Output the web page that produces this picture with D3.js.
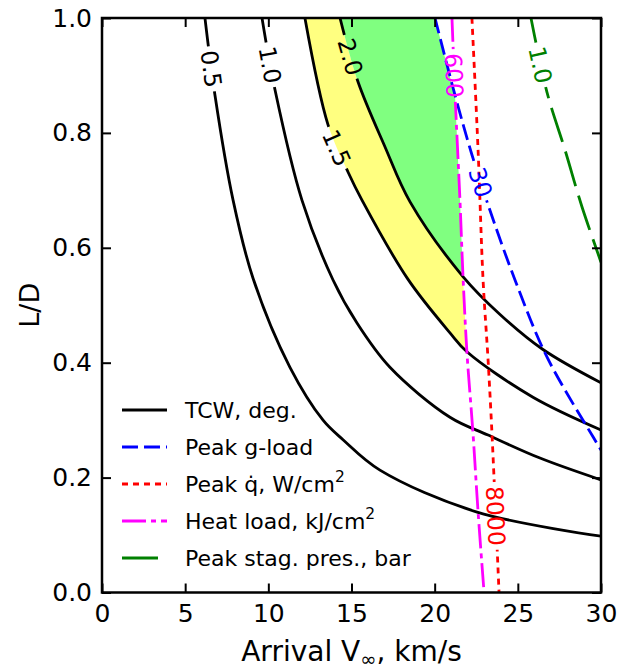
<!DOCTYPE html>
<html><head><meta charset="utf-8">
<script src="https://cdn.jsdelivr.net/npm/d3@7"></script>
<style>body{margin:0;background:#fff} svg text{font-family:"DejaVu Sans",sans-serif}</style>
</head><body><svg id="c" width="621" height="671"></svg>
<script>
// ---------------- data ----------------
const xTicks=[0,5,10,15,20,25,30];
const yTicks=[0,0.2,0.4,0.6,0.8,1.0];
const tcwLevels=["0.5","1.0","1.5","2.0"];
// TCW contours (Arrival V_inf km/s , L/D)
const tcw05V =[6.19,6.79,7.88,9.08,11.30,13.29,14.49,16.71,22.55,30];
const tcw05LD=[1.0,0.866,0.683,0.547,0.392,0.300,0.266,0.213,0.140,0.098];
const tcw10V =[9.62,10.40,12.02,13.89,15.33,17.31,20.92,23.21,26.33,30];
const tcw10LD=[1.0,0.875,0.683,0.544,0.469,0.392,0.305,0.274,0.234,0.196];
const tcw15V =[12.20,13.59,14.79,15.63,18.40,20.92,21.94,25.91,30];
const tcw15LD=[1.0,0.814,0.732,0.683,0.545,0.452,0.419,0.340,0.283];
const tcw20V =[14.31,15.39,17.01,18.52,21.70,23.93,26.51,30];
const tcw20LD=[1.0,0.889,0.776,0.680,0.550,0.484,0.423,0.365];
// Peak g-load = 30
const gLevel="30";
const gV =[20.02,21.22,22.24,23.21,24.83,26.75,29.52,30];
const gLD=[1.0,0.866,0.762,0.675,0.544,0.410,0.271,0.248];
// Peak heat rate = 8000 W/cm2
const qLevel="8000";
const qV =[22.24,22.61,22.91,23.21,23.45,23.87];
const qLD=[1.0,0.770,0.544,0.405,0.274,0.0];
// Heat load = 600 kJ/cm2
const hLevel="600";
const hV =[21.04,21.22,21.52,21.70,21.94,22.30,22.61,22.97];
const hLD=[1.0,0.870,0.683,0.553,0.418,0.279,0.140,0.0];
// Peak stagnation pressure = 1.0 bar
const pLevel="1.0";
const pV =[25.79,26.75,27.84,28.86,30];
const pLD=[1.0,0.871,0.770,0.671,0.575];
const legendLabels=["TCW, deg.","Peak g-load","Peak q\u0307, W/cm","Heat load, kJ/cm","Peak stag. pres., bar"];

// ---------------- drawing ----------------
const svg=d3.select("#c");
const x=d3.scaleLinear().domain([0,30]).range([102,601]);
const y=d3.scaleLinear().domain([0,1]).range([592.5,18]);
const line=d3.line().x(d=>x(d[0])).y(d=>y(d[1])).curve(d3.curveCatmullRom.alpha(0.5));
const pts=(V,L)=>V.map((v,i)=>[v,L[i]]);
const defs=svg.append("defs");
defs.append("clipPath").attr("id","plot").append("rect")
  .attr("x",x(0)).attr("y",y(1)).attr("width",x(30)-x(0)).attr("height",y(0)-y(1));

const P05=pts(tcw05V,tcw05LD),P10=pts(tcw10V,tcw10LD),P15=pts(tcw15V,tcw15LD),P20=pts(tcw20V,tcw20LD);
const PG=pts(gV,gLD),PQ=pts(qV,qLD),PH=pts(hV,hLD),PP=pts(pV,pLD);

// clip regions
const leftOfH=line(PH)+`L${x(0)},${y(0)}L${x(0)},${y(1)}Z`;
const leftOfG=line(PG)+`L${x(30)},${y(0)}L${x(0)},${y(0)}L${x(0)},${y(1)}Z`;
defs.append("clipPath").attr("id","cH").append("path").attr("d",leftOfH);
defs.append("clipPath").attr("id","cG").append("path").attr("d",leftOfG);

const plot=svg.append("g").attr("clip-path","url(#plot)");
// yellow band between 1.5 and 2.0, left of heat-load line
const band=line(P15)+line(P20.slice().reverse()).replace(/^M/,"L")+"Z";
plot.append("g").attr("clip-path","url(#cH)").append("path").attr("d",band).attr("fill","#ffff80");
// green region beyond 2.0, left of heat-load and g-load lines
const above20=line(P20)+`L${x(30)},${y(1)}Z`;
plot.append("g").attr("clip-path","url(#cH)").append("g").attr("clip-path","url(#cG)")
  .append("path").attr("d",above20).attr("fill","#80ff80");

const styles=[
  {p:P05,c:"#000",dash:null,lab:tcwLevels[0],at:0.911},
  {p:P10,c:"#000",dash:null,lab:tcwLevels[1],at:0.918},
  {p:P15,c:"#000",dash:null,lab:tcwLevels[2],at:0.774},
  {p:P20,c:"#000",dash:null,lab:tcwLevels[3],at:0.932},
  {p:PG,c:"#0000ff",dash:"16,6",lab:gLevel,at:0.714},
  {p:PQ,c:"#ff0000",dash:"6,5",lab:qLevel,at:0.133},
  {p:PH,c:"#ff00ff",dash:"24,5,5,5",lab:hLevel,at:0.900},
  {p:PP,c:"#008000",dash:"36,10",lab:pLevel,at:0.918},
];
const LW=2.8;
const labG=svg.append("g");
styles.forEach((s,i)=>{
  const path=plot.append("path").attr("d",line(s.p)).attr("fill","none")
    .attr("stroke",s.c).attr("stroke-width",LW).attr("stroke-dasharray",s.dash);
  const node=path.node(), L=node.getTotalLength();
  const ty=y(s.at);
  let best=0,bd=1e9;
  for(let k=0;k<=600;k++){const pt=node.getPointAtLength(L*k/600);const d=Math.abs(pt.y-ty);if(d<bd){bd=d;best=L*k/600;}}
  const c=node.getPointAtLength(best);
  const a=node.getPointAtLength(Math.max(0,best-4)),b=node.getPointAtLength(Math.min(L,best+4));
  let ang=Math.atan2(b.y-a.y,b.x-a.x)*180/Math.PI;
  if(ang>90)ang-=180; if(ang<-90)ang+=180;
  const t=labG.append("text").attr("text-anchor","middle").attr("dy","0.36em")
    .attr("font-size",23.5).attr("fill",s.c)
    .attr("transform",`translate(${c.x},${c.y}) rotate(${ang})`).text(s.lab);
  const w=t.node().getComputedTextLength()+8;
  const m=defs.append("mask").attr("id","m"+i).attr("maskUnits","userSpaceOnUse")
    .attr("x",0).attr("y",0).attr("width",621).attr("height",671);
  m.append("rect").attr("width",621).attr("height",671).attr("fill","#fff");
  m.append("rect").attr("x",-w/2).attr("y",-10).attr("width",w).attr("height",20).attr("fill","#000")
    .attr("transform",`translate(${c.x},${c.y}) rotate(${ang})`);
  path.attr("mask",`url(#m${i})`);
});

// axes
const tickStyle=g=>{g.select(".domain").remove();g.selectAll("line").attr("stroke","#000").attr("stroke-width",2);
  g.attr("font-size",25).attr("font-family","DejaVu Sans").selectAll("text").attr("fill","#000");};
svg.append("g").attr("transform",`translate(0,${y(0)})`)
  .call(d3.axisBottom(x).tickValues(xTicks).tickSizeInner(-9).tickSizeOuter(0).tickPadding(12).tickFormat(d3.format("d"))).call(tickStyle);
svg.append("g").attr("transform",`translate(0,${y(1)})`)
  .call(d3.axisTop(x).tickValues(xTicks).tickSizeInner(-9).tickSizeOuter(0).tickFormat("")).call(tickStyle);
svg.append("g").attr("transform",`translate(${x(0)},0)`)
  .call(d3.axisLeft(y).tickValues(yTicks).tickSizeInner(-9).tickSizeOuter(0).tickPadding(10).tickFormat(d3.format(".1f"))).call(tickStyle);
svg.append("g").attr("transform",`translate(${x(30)},0)`)
  .call(d3.axisRight(y).tickValues(yTicks).tickSizeInner(-9).tickSizeOuter(0).tickFormat("")).call(tickStyle);
svg.append("rect").attr("x",x(0)).attr("y",y(1)).attr("width",x(30)-x(0)).attr("height",y(0)-y(1))
  .attr("fill","none").attr("stroke","#000").attr("stroke-width",2.5);

// axis labels
const xl=svg.append("text").attr("x",(x(0)+x(30))/2).attr("y",661).attr("text-anchor","middle").attr("font-size",28);
xl.append("tspan").text("Arrival V");
xl.append("tspan").attr("font-size",19.5).attr("dy",5).text("\u221e");
xl.append("tspan").attr("dy",-5).text(", km/s");
svg.append("text").attr("transform",`translate(29,${(y(0)+y(1))/2}) rotate(-90)`).attr("text-anchor","middle")
  .attr("dy","0.36em").attr("font-size",27).text("L/D");

// legend
const leg=svg.append("g");
const legStyles=[styles[0],styles[4],styles[5],styles[6],styles[7]];
legendLabels.forEach((lab,i)=>{
  const ry=410+i*37;
  leg.append("line").attr("x1",122).attr("x2",167).attr("y1",ry).attr("y2",ry)
    .attr("stroke",legStyles[i].c).attr("stroke-width",LW).attr("stroke-dasharray",legStyles[i].dash);
  const t=leg.append("text").attr("x",185).attr("y",ry).attr("dy","0.36em").attr("font-size",22).text(lab);
  if(i===2||i===3) t.append("tspan").attr("font-size",15.5).attr("dy",-10).text("2");
});
</script></body></html>
